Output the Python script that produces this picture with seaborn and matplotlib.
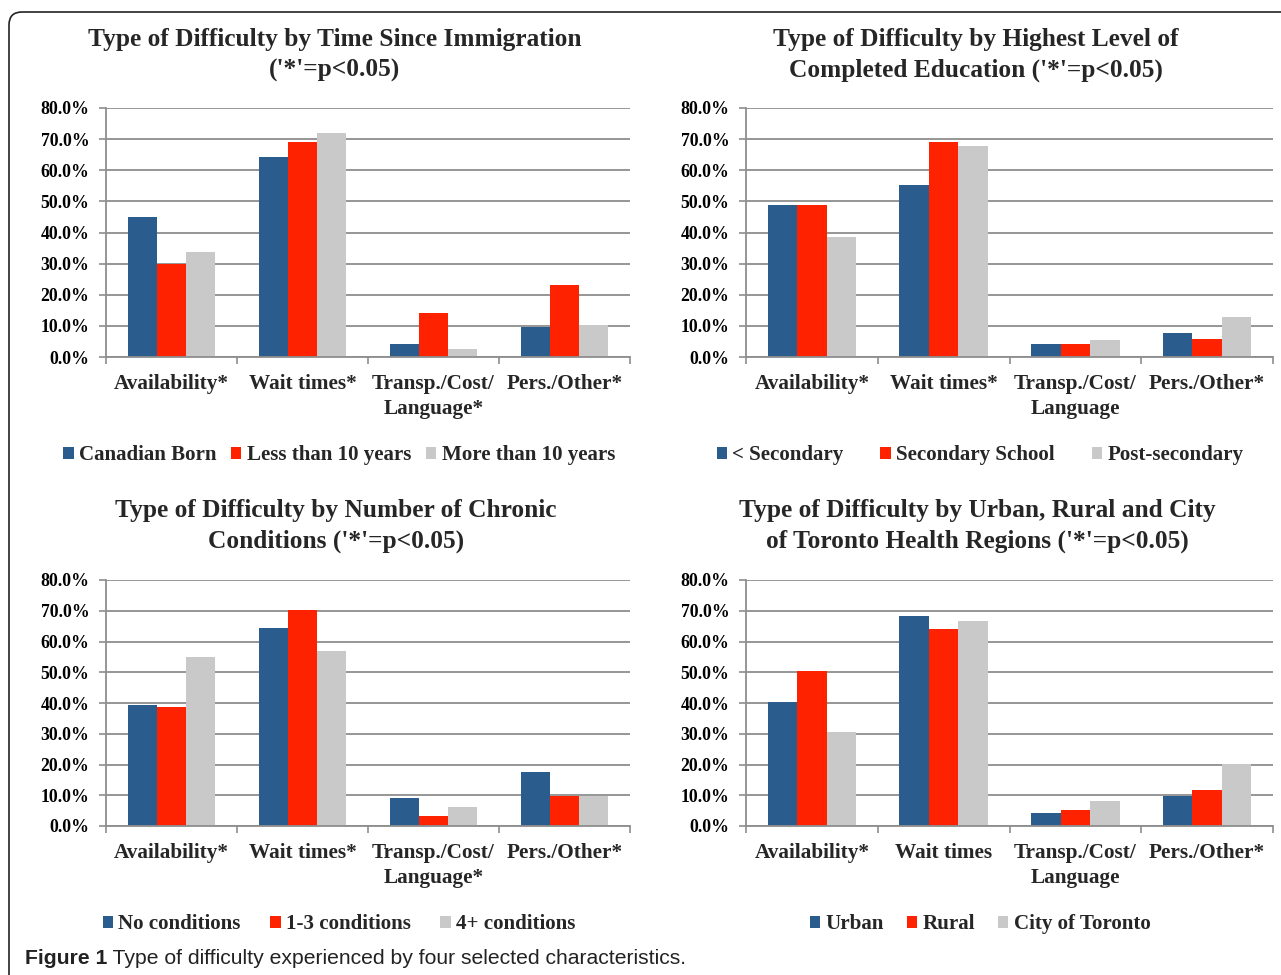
import matplotlib
matplotlib.use("Agg")
import matplotlib.pyplot as plt
import matplotlib.patches as mpatches
from matplotlib.ticker import FuncFormatter, FixedLocator
import seaborn as sns
import pandas as pd

# ---------------- data ----------------
cats_star = ["Availability*", "Wait times*", "Transp./Cost/\nLanguage*", "Pers./Other*"]
cats_edu = ["Availability*", "Wait times*", "Transp./Cost/\nLanguage", "Pers./Other*"]
cats_chronic = ["Availability*", "Wait times*", "Transp./Cost/\nLanguage*", "Pers./Other*"]
cats_region = ["Availability*", "Wait times", "Transp./Cost/\nLanguage", "Pers./Other*"]

imm_groups = ["Canadian Born", "Less than 10 years", "More than 10 years"]
imm_canadian = [45.1, 64.1, 4.1, 9.7]
imm_less10 = [29.9, 69.1, 14.2, 23.1]
imm_more10 = [33.6, 71.9, 2.5, 10.4]

edu_groups = ["< Secondary", "Secondary School", "Post-secondary"]
edu_lt_sec = [48.7, 55.4, 4.3, 7.6]
edu_sec = [48.7, 69.1, 4.3, 5.8]
edu_post = [38.7, 67.9, 5.5, 12.8]

chr_groups = ["No conditions", "1-3 conditions", "4+ conditions"]
chr_none = [39.5, 64.5, 9.1, 17.5]
chr_1_3 = [38.7, 70.2, 3.2, 9.8]
chr_4p = [54.8, 57.0, 6.2, 9.8]

reg_groups = ["Urban", "Rural", "City of Toronto"]
reg_urban = [40.2, 68.2, 4.3, 9.6]
reg_rural = [50.5, 64.1, 5.2, 11.8]
reg_toronto = [30.5, 66.8, 8.2, 20.3]

titles = [
    "Type of Difficulty by Time Since Immigration\n('*'=p<0.05)",
    "Type of Difficulty by Highest Level of\nCompleted Education ('*'=p<0.05)",
    "Type of Difficulty by Number of Chronic\nConditions ('*'=p<0.05)",
    "Type of Difficulty by Urban, Rural and City\nof Toronto Health Regions ('*'=p<0.05)",
]
yticks = [0, 10, 20, 30, 40, 50, 60, 70, 80]
caption_bold = "Figure 1"
caption_rest = " Type of difficulty experienced by four selected characteristics."

colors = ["#2B5C8E", "#FF2200", "#C9C9C9"]

# ---------------- figure ----------------
sns.set_theme(style="white")
plt.rcParams["font.family"] = ["Liberation Serif", "DejaVu Serif"]
plt.rcParams["font.weight"] = "bold"

W, H = 1281, 975
fig = plt.figure(figsize=(W / 100, H / 100), dpi=100)


def make_df(cats, groups, series):
    rows = []
    for g, vals in zip(groups, series):
        for c, v in zip(cats, vals):
            rows.append({"cat": c, "grp": g, "val": v})
    return pd.DataFrame(rows)


panels = [
    dict(cats=cats_star, groups=imm_groups, series=[imm_canadian, imm_less10, imm_more10],
         rect=(106, 108, 630, 357), title_x=335, title_y=55, leg_x=339, leg_y=455, colsp=0.7),
    dict(cats=cats_edu, groups=edu_groups, series=[edu_lt_sec, edu_sec, edu_post],
         rect=(746, 108, 1273, 357), title_x=976, title_y=55, leg_x=980, leg_y=455, colsp=1.75),
    dict(cats=cats_chronic, groups=chr_groups, series=[chr_none, chr_1_3, chr_4p],
         rect=(106, 580, 630, 826), title_x=336, title_y=526, leg_x=339, leg_y=924, colsp=1.4),
    dict(cats=cats_region, groups=reg_groups, series=[reg_urban, reg_rural, reg_toronto],
         rect=(746, 580, 1273, 826), title_x=977, title_y=526, leg_x=980, leg_y=924, colsp=1.1),
]

for p, title in zip(panels, titles):
    x0, y0, x1, y1 = p["rect"]
    ax = fig.add_axes([x0 / W, 1 - y1 / H, (x1 - x0) / W, (y1 - y0) / H])
    df = make_df(p["cats"], p["groups"], p["series"])
    sns.barplot(data=df, x="cat", y="val", hue="grp", palette=colors, width=0.67,
                saturation=1, ax=ax, linewidth=0, edgecolor="none", errorbar=None)
    ax.set_ylim(0, 80)
    ax.set_xlim(-0.5, 3.5)
    ax.set_xlabel("")
    ax.set_ylabel("")
    ax.yaxis.set_major_locator(FixedLocator(yticks))
    ax.yaxis.set_major_formatter(FuncFormatter(lambda v, pos: f"{v:.1f}%"))
    ax.grid(axis="y", color="#8E8E8E", linewidth=1.3)
    ax.set_axisbelow(True)
    for s in ["top", "right"]:
        ax.spines[s].set_visible(False)
    for s in ["left", "bottom"]:
        ax.spines[s].set_color("#8E8E8E")
        ax.spines[s].set_linewidth(1.3)
    ax.tick_params(axis="y", which="major", left=True, length=5, width=1.2, color="#8E8E8E",
                   pad=7, labelsize=12.8, labelcolor="black")
    ax.set_xticks(range(4))
    ax.set_xticklabels(p["cats"], fontsize=15.3, fontweight="bold", linespacing=1.3)
    ax.tick_params(axis="x", which="major", bottom=False, length=0, pad=12.5, labelsize=15.3)
    ax.set_xticks([-0.5, 0.5, 1.5, 2.5, 3.5], minor=True)
    ax.tick_params(axis="x", which="minor", bottom=True, length=5, width=1.2, color="#8E8E8E")
    for lab in ax.get_yticklabels():
        lab.set_fontweight("bold")

    handles, labels = ax.get_legend_handles_labels()
    if ax.get_legend() is not None:
        ax.get_legend().remove()
    ax.legend(handles, labels, loc="center", bbox_to_anchor=(p["leg_x"] / W, 1 - p["leg_y"] / H),
              bbox_transform=fig.transFigure, ncol=3, frameon=False,
              handlelength=0.5, handleheight=0.5, handletextpad=0.25,
              columnspacing=p["colsp"], prop={"size": 15.1, "weight": "bold"})

    fig.text(p["title_x"] / W, 1 - p["title_y"] / H, title, ha="center", va="center",
             fontsize=18.3, fontweight="bold", linespacing=1.45,
             multialignment="center")

# caption
t1 = fig.text(25 / W, 1 - 958 / H, caption_bold, ha="left", va="center",
              fontsize=15.2, fontweight="bold", family=["Liberation Sans", "DejaVu Sans"],
              color="#222222")
fig.canvas.draw()
bb = t1.get_window_extent()
fig.text(bb.x1 / W, 1 - 958 / H, caption_rest, ha="left", va="center",
         fontsize=15.2, fontweight="normal", family=["Liberation Sans", "DejaVu Sans"],
         color="#222222")

# frame (rounded corner at top-left; right and bottom run off the page)
frame = mpatches.FancyBboxPatch((0.09, -0.6), 14.0, 9.63 + 0.6,
                                boxstyle="round,pad=0,rounding_size=0.13",
                                transform=fig.dpi_scale_trans, fill=False,
                                edgecolor="#222222", linewidth=1.2)
fig.patches.append(frame)

fig.savefig("out.png", dpi=100)
